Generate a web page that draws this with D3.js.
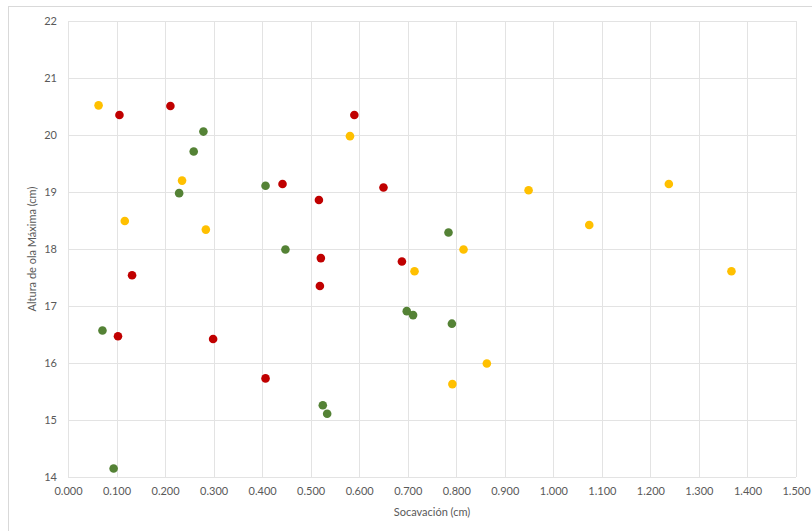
<!DOCTYPE html>
<html>
<head>
<meta charset="utf-8">
<script src="https://cdn.jsdelivr.net/npm/d3@7"></script>
<style>
  html, body { margin: 0; padding: 0; background: #fff; }
  svg { display: block; }
  text { font-family: Lato, "Open Sans", sans-serif; fill: #595959; }
</style>
</head>
<body>
<svg id="chart" width="812" height="531"></svg>
<script>
// Socavación (cm) vs. altura de ola máxima (cm), three groups of tests
const xTicks = [0, 0.1, 0.2, 0.3, 0.4, 0.5, 0.6, 0.7, 0.8, 0.9, 1.0, 1.1, 1.2, 1.3, 1.4, 1.5];
const yTicks = [14, 15, 16, 17, 18, 19, 20, 21, 22];

const yellowX = [0.063, 0.235, 0.117, 0.284, 0.581, 0.949, 1.238, 1.074, 0.815, 1.367, 0.714, 0.792, 0.863];
const yellowY = [20.52, 19.20, 18.49, 18.34, 19.98, 19.03, 19.14, 18.42, 17.99, 17.61, 17.61, 15.63, 15.99];

const redX = [0.106, 0.211, 0.590, 0.442, 0.517, 0.650, 0.521, 0.688, 0.519, 0.132, 0.103, 0.299, 0.407];
const redY = [20.35, 20.51, 20.35, 19.14, 18.86, 19.08, 17.84, 17.78, 17.35, 17.54, 16.47, 16.42, 15.73];

const greenX = [0.279, 0.259, 0.229, 0.407, 0.448, 0.784, 0.698, 0.711, 0.791, 0.071, 0.525, 0.534, 0.094];
const greenY = [20.06, 19.71, 18.98, 19.11, 17.99, 18.29, 16.91, 16.84, 16.69, 16.57, 15.26, 15.11, 14.15];

const series = [
  { color: "#FFC000", xs: yellowX, ys: yellowY },
  { color: "#C00000", xs: redX, ys: redY },
  { color: "#548235", xs: greenX, ys: greenY }
];

const svg = d3.select("#chart");
const plotL = 68, plotR = 796, plotT = 21, plotB = 477;

// chart frame
svg.append("rect")
  .attr("x", 8.5).attr("y", 6.5)
  .attr("width", 812).attr("height", 540)
  .attr("fill", "#fff").attr("stroke", "#d9d9d9").attr("stroke-width", 1);

const x = d3.scaleLinear().domain([0, 1.5]).range([plotL, plotR]);
const y = d3.scaleLinear().domain([14, 22]).range([plotB, plotT]);

// gridlines
const grid = svg.append("g").attr("stroke", "#e3e3e3").attr("stroke-width", 1);
grid.selectAll("line.v").data(xTicks).join("line")
  .attr("x1", d => Math.round(x(d)) + 0.5).attr("x2", d => Math.round(x(d)) + 0.5)
  .attr("y1", plotT).attr("y2", plotB);
grid.selectAll("line.h").data(yTicks).join("line")
  .attr("y1", d => Math.round(y(d)) + 0.5).attr("y2", d => Math.round(y(d)) + 0.5)
  .attr("x1", plotL).attr("x2", plotR);

// axes (labels only)
const xAxis = svg.append("g")
  .attr("transform", `translate(0,${plotB})`)
  .call(d3.axisBottom(x).tickValues(xTicks).tickFormat(d3.format(".3f")).tickSize(0).tickPadding(10));
const yAxis = svg.append("g")
  .attr("transform", `translate(${plotL},0)`)
  .call(d3.axisLeft(y).tickValues(yTicks).tickFormat(d3.format("d")).tickSize(0).tickPadding(11));
[xAxis, yAxis].forEach(a => {
  a.select(".domain").remove();
  a.selectAll("text").attr("fill", "#595959").style("font-size", "11px")
    .style("font-family", "Lato, 'Open Sans', sans-serif");
});

// points
series.forEach(s => {
  svg.append("g").selectAll("circle")
    .data(s.xs.map((v, i) => [v, s.ys[i]]))
    .join("circle")
    .attr("cx", d => x(d[0]))
    .attr("cy", d => y(d[1]))
    .attr("r", 4.3)
    .attr("fill", s.color);
});

// axis titles
svg.append("text")
  .attr("x", (plotL + plotR) / 2).attr("y", 516)
  .attr("text-anchor", "middle")
  .style("font-size", "11px")
  .text("Socavación (cm)");
svg.append("text")
  .attr("transform", `translate(36,${(plotT + plotB) / 2}) rotate(-90)`)
  .attr("text-anchor", "middle")
  .style("font-size", "11px")
  .text("Altura de ola Máxima (cm)");
</script>
</body>
</html>
